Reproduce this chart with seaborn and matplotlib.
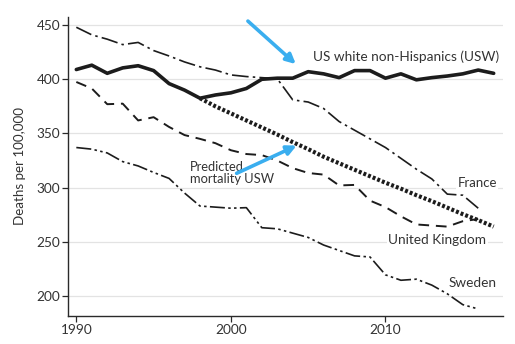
import numpy as np
import pandas as pd
import matplotlib
matplotlib.use("Agg")
import matplotlib.pyplot as plt
import seaborn as sns

# Deaths per 100,000, by year
years_usw = list(range(1990, 2018))
usw = [409, 413, 405.5, 410.5, 412.5, 408, 396, 390, 382.5, 385.5, 387.5, 391.5,
       400, 401, 401, 407, 405, 401.5, 408, 408, 401, 405, 399.5, 401.5, 403,
       405, 408.5, 405.5]

years_eu = list(range(1990, 2017))
france = [448, 441, 437, 432, 434, 426.5, 421.5, 416, 411.5, 408.5, 404, 402.5,
          401.5, 400.5, 381, 379, 373, 361, 353, 345, 337, 327, 317, 308, 294,
          293, 281]
uk = [397.5, 391.5, 377, 377.5, 362, 365, 356, 348.5, 345, 341, 334.5, 331,
      330, 325, 318, 313.5, 312, 302, 302.5, 288, 282, 273.5, 266, 265, 264,
      269, 271]
sweden = [337, 335.5, 332, 324, 320, 314, 308.5, 295, 283, 282, 281, 281.5,
          263, 262, 258, 254, 247, 242, 237, 236, 219.5, 214.5, 215.5, 210,
          202, 192, 188]

years_pred = list(range(1998, 2018))
predicted = [382.5, 375, 368.5, 362, 355.5, 349, 342, 335.5, 328.5, 322.5,
             316.5, 310.5, 304.5, 299, 293, 287.5, 281.5, 275.5, 270, 264]

x_ticks = [1990, 2000, 2010]
y_ticks = [200, 250, 300, 350, 400, 450]

sns.set_theme(style="white")
plt.rcParams["font.family"] = ["Lato", "DejaVu Sans"]

INK = "#1c1c1c"
TXT = "#333333"
BLUE = "#3aaeef"

fig = plt.figure(figsize=(5.15, 3.44), dpi=100)
ax = fig.add_axes([0.1326, 0.0823, 0.844, 0.869])

for yv in y_ticks:
    ax.axhline(yv, color="#e3e3e3", lw=0.9, zorder=0)

sns.lineplot(x=years_eu, y=france, ax=ax, color=INK, lw=1.2,
             linestyle=(0, (10, 2.5, 1.5, 2.5)), zorder=3)
sns.lineplot(x=years_eu, y=uk, ax=ax, color=INK, lw=1.4,
             linestyle=(0, (5.5, 3.5)), zorder=3)
sns.lineplot(x=years_eu, y=sweden, ax=ax, color=INK, lw=1.2,
             linestyle=(0, (9, 2, 1.5, 2, 1.5, 2)), zorder=3)
sns.lineplot(x=years_pred, y=predicted, ax=ax, color=INK, lw=3.0,
             linestyle=(0, (0.7, 0.5)), zorder=3)
sns.lineplot(x=years_usw, y=usw, ax=ax, color=INK, lw=2.6, zorder=4)

ax.set_xlim(1989.48, 2017.6)
ax.set_ylim(181.8, 457.7)
ax.set_xticks(x_ticks)
ax.set_yticks(y_ticks)
ax.set_xlabel("")
ax.set_ylabel("Deaths per 100,000", fontsize=9.6, color=TXT, labelpad=7)

for side in ("top", "right"):
    ax.spines[side].set_visible(False)
for side in ("left", "bottom"):
    ax.spines[side].set_color("#2a2a2a")
    ax.spines[side].set_linewidth(1.0)
ax.tick_params(axis="both", which="major", direction="out", length=4,
               width=0.9, color="#2a2a2a", labelcolor=TXT, labelsize=9.8,
               bottom=True, left=True, pad=2)

lab = dict(color=TXT, va="center", zorder=5)
box = dict(fc="white", ec="none", pad=1.0)
ax.text(2005.3, 420.8, "US white non-Hispanics (USW)", ha="left",
        fontsize=9.8, **lab)
ax.text(1997.35, 313.2, "Predicted\nmortality USW", ha="left",
        linespacing=1.0, fontsize=9.3, **lab)
ax.text(2017.2, 303.9, "France", ha="right", bbox=box, fontsize=9.5, **lab)
ax.text(2016.53, 251.7, "United Kingdom", ha="right", bbox=box,
        fontsize=9.8, **lab)
ax.text(2017.17, 211.7, "Sweden", ha="right", fontsize=9.8, **lab)

arrow = dict(arrowstyle="-|>", color=BLUE, lw=2.6, mutation_scale=14,
             shrinkA=0, shrinkB=0)
ax.annotate("", xy=(2004.2, 414.0), xytext=(2001.1, 453.7),
            arrowprops=arrow, zorder=6)
ax.annotate("", xy=(2004.25, 338.8), xytext=(2000.37, 313.2),
            arrowprops=arrow, zorder=6)

fig.savefig("out.png", dpi=100)
